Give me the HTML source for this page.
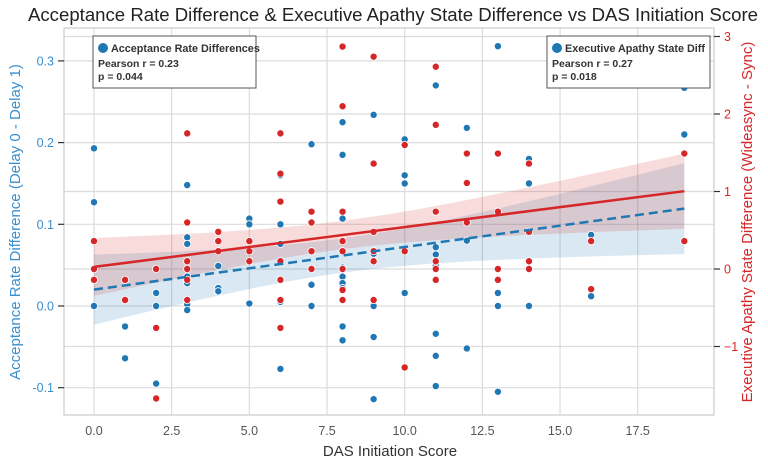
<!DOCTYPE html>
<html><head><meta charset="utf-8"><style>
body{margin:0;background:#fff;font-family:"Liberation Sans",sans-serif}
svg text{font-family:"Liberation Sans",sans-serif}
</style></head><body>
<svg id="chart" width="768" height="467" xmlns="http://www.w3.org/2000/svg"></svg>
<script>
const xTicks=[0,2.5,5,7.5,10,12.5,15,17.5];
const leftTicks=[-0.1,0,0.1,0.2,0.3];
const rightTicks=[-1,0,1,2,3];
const blueX=[0,0,0,1,1,2,2,2,3,3,3,3,3,3,3,4,4,4,5,5,5,6,6,6,6,6,7,7,7,8,8,8,8,8,8,8,8,8,9,9,9,9,9,10,10,10,10,11,11,11,11,11,11,11,11,12,12,12,13,13,13,13,14,14,14,16,16,19,19];
const blueY=[0.193,0.127,0,-0.025,-0.064,0.016,0,-0.095,0.148,0.084,0.076,0.036,0.028,0.002,-0.005,0.049,0.022,0.018,0.107,0.1,0.003,0.16,0.1,0.076,0.005,-0.077,0.198,0.026,0,0.225,0.185,0.107,0.047,0.036,0.028,0.022,-0.025,-0.042,0.234,0.064,0,-0.038,-0.114,0.204,0.16,0.15,0.016,0.27,0.072,0.063,0.055,0.049,-0.034,-0.061,-0.098,0.218,0.08,-0.052,0.318,0.016,0,-0.105,0.18,0.15,0,0.087,0.012,0.267,0.21];
const redX=[0,0,0,1,1,2,2,2,3,3,3,3,3,3,4,4,4,5,5,5,6,6,6,6,6,6,6,7,7,7,7,8,8,8,8,8,8,8,8,9,9,9,9,9,9,10,10,10,11,11,11,11,11,11,12,12,12,13,13,13,13,14,14,14,14,16,16,19,19];
const redY=[0.36,0,-0.14,-0.14,-0.4,0,-0.76,-1.67,1.75,0.6,0.1,0,-0.14,-0.4,0.48,0.36,0.23,0.36,0.23,0.1,1.75,1.23,0.87,0.1,-0.14,-0.4,-0.76,0.74,0.6,0.23,0,2.87,2.1,0.74,0.36,0.23,0,-0.27,-0.4,2.74,1.36,0.48,0.23,0.1,-0.4,1.6,0.23,-1.27,2.61,1.86,0.74,0.1,0,-0.14,1.49,1.11,0.6,1.49,0.74,0,-0.14,1.36,0.48,0.1,0,0.36,-0.26,1.49,0.36];

const L=64,R=714,T=28,B=415;
const sx=v=>94+v*31.07;
const sl=v=>306-v*817;
const sr=v=>269-v*77.5;
const svg=document.getElementById('chart');
const NS='http://www.w3.org/2000/svg';
function mk(tag,attrs,parent){const e=document.createElementNS(NS,tag);for(const k in attrs)e.setAttribute(k,attrs[k]);(parent||svg).appendChild(e);return e;}
function txt(s,attrs){const e=mk('text',attrs);e.textContent=s;return e;}

xTicks.forEach(t=>{const g=mk('line',{x1:sx(t),x2:sx(t),y1:T,y2:B,stroke:'#dcdcdc','stroke-width':1.2});

});
leftTicks.forEach(t=>{const g=mk('line',{x1:L,x2:R,y1:sl(t),y2:sl(t),stroke:'#dcdcdc','stroke-width':1.2});

});
rightTicks.forEach(t=>{const g=mk('line',{x1:L,x2:R,y1:sr(t),y2:sr(t),stroke:'#dcdcdc','stroke-width':1.2});

});

function fit(xs,ys){const n=xs.length;const mx=xs.reduce((a,b)=>a+b)/n,my=ys.reduce((a,b)=>a+b)/n;
let sxx=0,sxy=0;xs.forEach((x,i)=>{sxx+=(x-mx)**2;sxy+=(x-mx)*(ys[i]-my);});
const b=sxy/sxx,a=my-b*mx;let ss=0;xs.forEach((x,i)=>{ss+=(ys[i]-a-b*x)**2;});
const se=Math.sqrt(ss/(n-2));return {a,b,mx,sxx,se,n};}
function band(f,sy,color,name){const xs=[];for(let i=0;i<=40;i++)xs.push(19*i/40);
const up=[],lo=[];xs.forEach(x=>{const h=1.8*f.se*Math.sqrt(1/f.n+(x-f.mx)**2/f.sxx);const y=f.a+f.b*x;
up.push(sx(x)+','+sy(y+h));lo.push(sx(x)+','+sy(y-h));});
const p=mk('polygon',{points:up.concat(lo.reverse()).join(' '),fill:color,'fill-opacity':0.17});

}
const fb=fit(blueX,blueY),fr=fit(redX,redY);
band(fb,sl,'#1f77b4','blue-ci-band');
band(fr,sr,'#d62728','red-ci-band');

blueX.forEach((x,i)=>{const c=mk('circle',{cx:sx(x),cy:sl(blueY[i]),r:3.6,fill:'#1f77b4',stroke:'#fff','stroke-width':0.8});

});
redX.forEach((x,i)=>{const c=mk('circle',{cx:sx(x),cy:sr(redY[i]),r:3.6,fill:'#d62728',stroke:'#fff','stroke-width':0.8});

});

const lb=mk('line',{x1:sx(0),y1:sl(fb.a),x2:sx(19),y2:sl(fb.a+fb.b*19),stroke:'#1f77b4','stroke-width':2.5,'stroke-dasharray':'9,5'});


const lr=mk('line',{x1:sx(0),y1:sr(fr.a),x2:sx(19),y2:sr(fr.a+fr.b*19),stroke:'#d62728','stroke-width':2.5});



const fr2=mk('rect',{x:L,y:T,width:R-L,height:B-T,fill:'none',stroke:'#cccccc','stroke-width':1.2});



xTicks.forEach(t=>{const e=txt(t.toFixed(1),{x:sx(t),y:435,'text-anchor':'middle','font-size':12.5,fill:'#555'});

});
leftTicks.forEach(t=>{mk('line',{x1:L-6,x2:L,y1:sl(t),y2:sl(t),stroke:'#333','stroke-width':1.2});
const e=txt(t.toFixed(1),{x:L-10,y:sl(t)+4.5,'text-anchor':'end','font-size':12.5,fill:'#3a8fd0'});

});
rightTicks.forEach(t=>{mk('line',{x1:R,x2:R+6,y1:sr(t),y2:sr(t),stroke:'#333','stroke-width':1.2});
const e=txt(String(t).replace('-','−'),{x:R+10,y:sr(t)+4.5,'text-anchor':'start','font-size':12.5,fill:'#d62728'});

});
</script>
<svg style="position:absolute;left:0;top:0" width="768" height="467" xmlns="http://www.w3.org/2000/svg">
<text x="393" y="21" text-anchor="middle" font-size="18.6" fill="#222">Acceptance Rate Difference &amp; Executive Apathy State Difference vs DAS Initiation Score</text>
<text x="390" y="456" text-anchor="middle" font-size="15" fill="#333">DAS Initiation Score</text>
<text transform="translate(20,222) rotate(-90)" text-anchor="middle" font-size="15" fill="#3a8fd0">Acceptance Rate Difference (Delay 0 - Delay 1)</text>
<text transform="translate(752,222) rotate(-90)" text-anchor="middle" font-size="15" fill="#d62728">Executive Apathy State Difference (Wideasync - Sync)</text>
<g>
<rect x="93" y="36" width="163" height="52" fill="#fff" stroke="#555" stroke-width="1"/>
<circle cx="103" cy="48" r="5" fill="#1f77b4"/>
<text x="111" y="52" font-size="10.8" font-weight="bold" fill="#333">Acceptance Rate Differences</text>
<text x="98" y="67" font-size="10.5" font-weight="bold" fill="#333">Pearson r = 0.23</text>
<text x="98" y="80" font-size="10.5" font-weight="bold" fill="#333">p = 0.044</text>
</g>
<g>
<rect x="547" y="36" width="163" height="52" fill="#fff" stroke="#555" stroke-width="1"/>
<circle cx="557" cy="48" r="5" fill="#1f77b4"/>
<text x="565" y="52" font-size="10.8" font-weight="bold" fill="#333">Executive Apathy State Diff</text>
<text x="552" y="67" font-size="10.5" font-weight="bold" fill="#333">Pearson r = 0.27</text>
<text x="552" y="80" font-size="10.5" font-weight="bold" fill="#333">p = 0.018</text>
</g>
</svg>
</body></html>
